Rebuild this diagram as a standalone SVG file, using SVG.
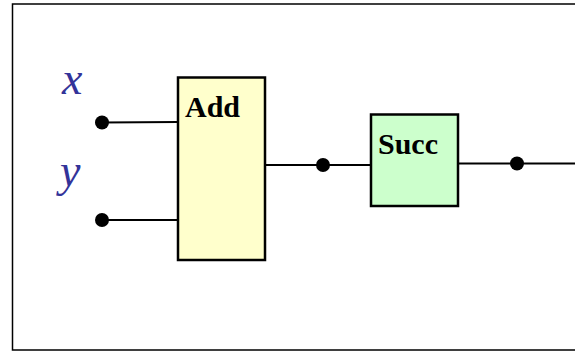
<svg xmlns="http://www.w3.org/2000/svg" width="575" height="352" viewBox="0 0 575 352">
<style>
.box{stroke:#000;stroke-width:2.5}
.lbl{font-family:"Liberation Serif",serif;font-weight:bold;font-size:30px;fill:#000}
.var{font-family:"Liberation Serif",serif;font-style:italic;font-size:46px;fill:#333399}
.wire{stroke:#000;stroke-width:2;fill:none}
.dot{fill:#000}
</style>
<rect width="575" height="352" fill="#fff"/>
<path d="M576,4 H12.5 V350 H576" fill="none" stroke="#000" stroke-width="1.5"/>
<g id="connectors">
<line class="wire" x1="102" y1="122.5" x2="178" y2="122"/>
<line class="wire" x1="102" y1="220" x2="178" y2="220"/>
<line class="wire" x1="265" y1="165" x2="371" y2="165"/>
<line class="wire" x1="458" y1="163.5" x2="576" y2="163.5"/>
<circle class="dot" cx="102" cy="122.5" r="7"/>
<circle class="dot" cx="102" cy="220" r="7"/>
<circle class="dot" cx="323" cy="165" r="7"/>
<circle class="dot" cx="517" cy="163.5" r="7"/>
</g>
<g id="label-x"><text class="var" x="62" y="94">x</text></g>
<g id="label-y"><text class="var" x="60" y="186">y</text></g>
<g id="add">
<rect class="box" x="178" y="77.5" width="87" height="182.5" fill="#FFFFCC"/>
<text class="lbl" x="185" y="117">Add</text>
</g>
<g id="succ">
<rect class="box" x="371" y="114.5" width="87" height="91.5" fill="#CCFFCC"/>
<text class="lbl" x="378" y="154">Succ</text>
</g>
</svg>
